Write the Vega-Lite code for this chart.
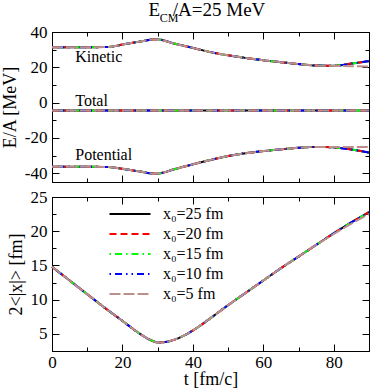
{
  "$schema": "https://vega.github.io/schema/vega-lite/v6.json",
  "background": "white",
  "padding": {"left": 0, "right": 1, "top": 0, "bottom": 0},
  "spacing": 4,
  "config": {
    "font": "Liberation Serif",
    "view": {"stroke": "black", "strokeWidth": 1},
    "axis": {
      "domainColor": "black", "domainWidth": 1, "tickColor": "black", "tickWidth": 1,
      "labelColor": "black", "titleColor": "black",
      "labelFont": "Liberation Serif", "titleFont": "Liberation Serif",
      "labelFontSize": 17, "titleFontSize": 18, "titleFontWeight": "normal",
      "grid": false, "labelPadding": 12, "labelFlush": false, "labelOverlap": false, "titlePadding": 5
    },
    "axisBottom": {"titlePadding": -3, "labelPadding": 10},
    "legend": {"labelFont": "Liberation Serif", "labelFontSize": 16, "labelColor": "black"}
  },
  "datasets": {
    "energy": [
      {"t": 0, "x0": "x₀=25 fm", "kind": "Kinetic", "e": 31.4},
      {"t": 10, "x0": "x₀=25 fm", "kind": "Kinetic", "e": 31.4},
      {"t": 16, "x0": "x₀=25 fm", "kind": "Kinetic", "e": 31.5},
      {"t": 20, "x0": "x₀=25 fm", "kind": "Kinetic", "e": 32.9},
      {"t": 25, "x0": "x₀=25 fm", "kind": "Kinetic", "e": 34.6},
      {"t": 29.5, "x0": "x₀=25 fm", "kind": "Kinetic", "e": 35.9},
      {"t": 35, "x0": "x₀=25 fm", "kind": "Kinetic", "e": 33.3},
      {"t": 40, "x0": "x₀=25 fm", "kind": "Kinetic", "e": 31.0},
      {"t": 45, "x0": "x₀=25 fm", "kind": "Kinetic", "e": 28.6},
      {"t": 50, "x0": "x₀=25 fm", "kind": "Kinetic", "e": 26.8},
      {"t": 55, "x0": "x₀=25 fm", "kind": "Kinetic", "e": 25.3},
      {"t": 60, "x0": "x₀=25 fm", "kind": "Kinetic", "e": 24.0},
      {"t": 65, "x0": "x₀=25 fm", "kind": "Kinetic", "e": 22.9},
      {"t": 70, "x0": "x₀=25 fm", "kind": "Kinetic", "e": 21.8},
      {"t": 75, "x0": "x₀=25 fm", "kind": "Kinetic", "e": 21.0},
      {"t": 80, "x0": "x₀=25 fm", "kind": "Kinetic", "e": 20.9},
      {"t": 85, "x0": "x₀=25 fm", "kind": "Kinetic", "e": 22.1},
      {"t": 90, "x0": "x₀=25 fm", "kind": "Kinetic", "e": 23.5},
      {"t": 0, "x0": "x₀=25 fm", "kind": "Potential", "e": -36.4},
      {"t": 10, "x0": "x₀=25 fm", "kind": "Potential", "e": -36.4},
      {"t": 16, "x0": "x₀=25 fm", "kind": "Potential", "e": -36.5},
      {"t": 20, "x0": "x₀=25 fm", "kind": "Potential", "e": -37.5},
      {"t": 25, "x0": "x₀=25 fm", "kind": "Potential", "e": -39.1},
      {"t": 29.5, "x0": "x₀=25 fm", "kind": "Potential", "e": -40.3},
      {"t": 35, "x0": "x₀=25 fm", "kind": "Potential", "e": -37.6},
      {"t": 40, "x0": "x₀=25 fm", "kind": "Potential", "e": -35.0},
      {"t": 45, "x0": "x₀=25 fm", "kind": "Potential", "e": -32.5},
      {"t": 50, "x0": "x₀=25 fm", "kind": "Potential", "e": -30.3},
      {"t": 55, "x0": "x₀=25 fm", "kind": "Potential", "e": -28.7},
      {"t": 60, "x0": "x₀=25 fm", "kind": "Potential", "e": -27.5},
      {"t": 65, "x0": "x₀=25 fm", "kind": "Potential", "e": -26.5},
      {"t": 70, "x0": "x₀=25 fm", "kind": "Potential", "e": -25.6},
      {"t": 75, "x0": "x₀=25 fm", "kind": "Potential", "e": -25.1},
      {"t": 80, "x0": "x₀=25 fm", "kind": "Potential", "e": -25.4},
      {"t": 85, "x0": "x₀=25 fm", "kind": "Potential", "e": -26.6},
      {"t": 90, "x0": "x₀=25 fm", "kind": "Potential", "e": -28.3},
      {"t": 0, "x0": "x₀=25 fm", "kind": "Total", "e": -4.5},
      {"t": 90, "x0": "x₀=25 fm", "kind": "Total", "e": -4.5},

      {"t": 0, "x0": "x₀=20 fm", "kind": "Kinetic", "e": 31.4},
      {"t": 10, "x0": "x₀=20 fm", "kind": "Kinetic", "e": 31.4},
      {"t": 16, "x0": "x₀=20 fm", "kind": "Kinetic", "e": 31.5},
      {"t": 20, "x0": "x₀=20 fm", "kind": "Kinetic", "e": 32.9},
      {"t": 25, "x0": "x₀=20 fm", "kind": "Kinetic", "e": 34.6},
      {"t": 29.5, "x0": "x₀=20 fm", "kind": "Kinetic", "e": 35.9},
      {"t": 35, "x0": "x₀=20 fm", "kind": "Kinetic", "e": 33.3},
      {"t": 40, "x0": "x₀=20 fm", "kind": "Kinetic", "e": 31.0},
      {"t": 45, "x0": "x₀=20 fm", "kind": "Kinetic", "e": 28.6},
      {"t": 50, "x0": "x₀=20 fm", "kind": "Kinetic", "e": 26.8},
      {"t": 55, "x0": "x₀=20 fm", "kind": "Kinetic", "e": 25.3},
      {"t": 60, "x0": "x₀=20 fm", "kind": "Kinetic", "e": 24.0},
      {"t": 65, "x0": "x₀=20 fm", "kind": "Kinetic", "e": 22.9},
      {"t": 70, "x0": "x₀=20 fm", "kind": "Kinetic", "e": 21.8},
      {"t": 75, "x0": "x₀=20 fm", "kind": "Kinetic", "e": 21.0},
      {"t": 80, "x0": "x₀=20 fm", "kind": "Kinetic", "e": 20.9},
      {"t": 85, "x0": "x₀=20 fm", "kind": "Kinetic", "e": 22.1},
      {"t": 90, "x0": "x₀=20 fm", "kind": "Kinetic", "e": 23.5},
      {"t": 0, "x0": "x₀=20 fm", "kind": "Potential", "e": -36.4},
      {"t": 10, "x0": "x₀=20 fm", "kind": "Potential", "e": -36.4},
      {"t": 16, "x0": "x₀=20 fm", "kind": "Potential", "e": -36.5},
      {"t": 20, "x0": "x₀=20 fm", "kind": "Potential", "e": -37.5},
      {"t": 25, "x0": "x₀=20 fm", "kind": "Potential", "e": -39.1},
      {"t": 29.5, "x0": "x₀=20 fm", "kind": "Potential", "e": -40.3},
      {"t": 35, "x0": "x₀=20 fm", "kind": "Potential", "e": -37.6},
      {"t": 40, "x0": "x₀=20 fm", "kind": "Potential", "e": -35.0},
      {"t": 45, "x0": "x₀=20 fm", "kind": "Potential", "e": -32.5},
      {"t": 50, "x0": "x₀=20 fm", "kind": "Potential", "e": -30.3},
      {"t": 55, "x0": "x₀=20 fm", "kind": "Potential", "e": -28.7},
      {"t": 60, "x0": "x₀=20 fm", "kind": "Potential", "e": -27.5},
      {"t": 65, "x0": "x₀=20 fm", "kind": "Potential", "e": -26.5},
      {"t": 70, "x0": "x₀=20 fm", "kind": "Potential", "e": -25.6},
      {"t": 75, "x0": "x₀=20 fm", "kind": "Potential", "e": -25.1},
      {"t": 80, "x0": "x₀=20 fm", "kind": "Potential", "e": -25.4},
      {"t": 85, "x0": "x₀=20 fm", "kind": "Potential", "e": -26.6},
      {"t": 90, "x0": "x₀=20 fm", "kind": "Potential", "e": -28.3},
      {"t": 0, "x0": "x₀=20 fm", "kind": "Total", "e": -4.5},
      {"t": 90, "x0": "x₀=20 fm", "kind": "Total", "e": -4.5},

      {"t": 0, "x0": "x₀=15 fm", "kind": "Kinetic", "e": 31.4},
      {"t": 10, "x0": "x₀=15 fm", "kind": "Kinetic", "e": 31.4},
      {"t": 16, "x0": "x₀=15 fm", "kind": "Kinetic", "e": 31.5},
      {"t": 20, "x0": "x₀=15 fm", "kind": "Kinetic", "e": 32.9},
      {"t": 25, "x0": "x₀=15 fm", "kind": "Kinetic", "e": 34.6},
      {"t": 29.5, "x0": "x₀=15 fm", "kind": "Kinetic", "e": 35.9},
      {"t": 35, "x0": "x₀=15 fm", "kind": "Kinetic", "e": 33.3},
      {"t": 40, "x0": "x₀=15 fm", "kind": "Kinetic", "e": 31.0},
      {"t": 45, "x0": "x₀=15 fm", "kind": "Kinetic", "e": 28.6},
      {"t": 50, "x0": "x₀=15 fm", "kind": "Kinetic", "e": 26.8},
      {"t": 55, "x0": "x₀=15 fm", "kind": "Kinetic", "e": 25.3},
      {"t": 60, "x0": "x₀=15 fm", "kind": "Kinetic", "e": 24.0},
      {"t": 65, "x0": "x₀=15 fm", "kind": "Kinetic", "e": 22.9},
      {"t": 70, "x0": "x₀=15 fm", "kind": "Kinetic", "e": 21.8},
      {"t": 75, "x0": "x₀=15 fm", "kind": "Kinetic", "e": 21.0},
      {"t": 80, "x0": "x₀=15 fm", "kind": "Kinetic", "e": 20.9},
      {"t": 85, "x0": "x₀=15 fm", "kind": "Kinetic", "e": 22.1},
      {"t": 90, "x0": "x₀=15 fm", "kind": "Kinetic", "e": 23.5},
      {"t": 0, "x0": "x₀=15 fm", "kind": "Potential", "e": -36.4},
      {"t": 10, "x0": "x₀=15 fm", "kind": "Potential", "e": -36.4},
      {"t": 16, "x0": "x₀=15 fm", "kind": "Potential", "e": -36.5},
      {"t": 20, "x0": "x₀=15 fm", "kind": "Potential", "e": -37.5},
      {"t": 25, "x0": "x₀=15 fm", "kind": "Potential", "e": -39.1},
      {"t": 29.5, "x0": "x₀=15 fm", "kind": "Potential", "e": -40.3},
      {"t": 35, "x0": "x₀=15 fm", "kind": "Potential", "e": -37.6},
      {"t": 40, "x0": "x₀=15 fm", "kind": "Potential", "e": -35.0},
      {"t": 45, "x0": "x₀=15 fm", "kind": "Potential", "e": -32.5},
      {"t": 50, "x0": "x₀=15 fm", "kind": "Potential", "e": -30.3},
      {"t": 55, "x0": "x₀=15 fm", "kind": "Potential", "e": -28.7},
      {"t": 60, "x0": "x₀=15 fm", "kind": "Potential", "e": -27.5},
      {"t": 65, "x0": "x₀=15 fm", "kind": "Potential", "e": -26.5},
      {"t": 70, "x0": "x₀=15 fm", "kind": "Potential", "e": -25.6},
      {"t": 75, "x0": "x₀=15 fm", "kind": "Potential", "e": -25.1},
      {"t": 80, "x0": "x₀=15 fm", "kind": "Potential", "e": -25.4},
      {"t": 85, "x0": "x₀=15 fm", "kind": "Potential", "e": -26.6},
      {"t": 90, "x0": "x₀=15 fm", "kind": "Potential", "e": -28.3},
      {"t": 0, "x0": "x₀=15 fm", "kind": "Total", "e": -4.5},
      {"t": 90, "x0": "x₀=15 fm", "kind": "Total", "e": -4.5},

      {"t": 0, "x0": "x₀=10 fm", "kind": "Kinetic", "e": 31.4},
      {"t": 10, "x0": "x₀=10 fm", "kind": "Kinetic", "e": 31.4},
      {"t": 16, "x0": "x₀=10 fm", "kind": "Kinetic", "e": 31.5},
      {"t": 20, "x0": "x₀=10 fm", "kind": "Kinetic", "e": 32.9},
      {"t": 25, "x0": "x₀=10 fm", "kind": "Kinetic", "e": 34.6},
      {"t": 29.5, "x0": "x₀=10 fm", "kind": "Kinetic", "e": 35.9},
      {"t": 35, "x0": "x₀=10 fm", "kind": "Kinetic", "e": 33.3},
      {"t": 40, "x0": "x₀=10 fm", "kind": "Kinetic", "e": 31.0},
      {"t": 45, "x0": "x₀=10 fm", "kind": "Kinetic", "e": 28.6},
      {"t": 50, "x0": "x₀=10 fm", "kind": "Kinetic", "e": 26.8},
      {"t": 55, "x0": "x₀=10 fm", "kind": "Kinetic", "e": 25.3},
      {"t": 60, "x0": "x₀=10 fm", "kind": "Kinetic", "e": 24.0},
      {"t": 65, "x0": "x₀=10 fm", "kind": "Kinetic", "e": 22.9},
      {"t": 70, "x0": "x₀=10 fm", "kind": "Kinetic", "e": 21.8},
      {"t": 75, "x0": "x₀=10 fm", "kind": "Kinetic", "e": 21.0},
      {"t": 80, "x0": "x₀=10 fm", "kind": "Kinetic", "e": 20.9},
      {"t": 85, "x0": "x₀=10 fm", "kind": "Kinetic", "e": 22.1},
      {"t": 90, "x0": "x₀=10 fm", "kind": "Kinetic", "e": 23.5},
      {"t": 0, "x0": "x₀=10 fm", "kind": "Potential", "e": -36.4},
      {"t": 10, "x0": "x₀=10 fm", "kind": "Potential", "e": -36.4},
      {"t": 16, "x0": "x₀=10 fm", "kind": "Potential", "e": -36.5},
      {"t": 20, "x0": "x₀=10 fm", "kind": "Potential", "e": -37.5},
      {"t": 25, "x0": "x₀=10 fm", "kind": "Potential", "e": -39.1},
      {"t": 29.5, "x0": "x₀=10 fm", "kind": "Potential", "e": -40.3},
      {"t": 35, "x0": "x₀=10 fm", "kind": "Potential", "e": -37.6},
      {"t": 40, "x0": "x₀=10 fm", "kind": "Potential", "e": -35.0},
      {"t": 45, "x0": "x₀=10 fm", "kind": "Potential", "e": -32.5},
      {"t": 50, "x0": "x₀=10 fm", "kind": "Potential", "e": -30.3},
      {"t": 55, "x0": "x₀=10 fm", "kind": "Potential", "e": -28.7},
      {"t": 60, "x0": "x₀=10 fm", "kind": "Potential", "e": -27.5},
      {"t": 65, "x0": "x₀=10 fm", "kind": "Potential", "e": -26.5},
      {"t": 70, "x0": "x₀=10 fm", "kind": "Potential", "e": -25.6},
      {"t": 75, "x0": "x₀=10 fm", "kind": "Potential", "e": -25.1},
      {"t": 80, "x0": "x₀=10 fm", "kind": "Potential", "e": -25.4},
      {"t": 85, "x0": "x₀=10 fm", "kind": "Potential", "e": -26.6},
      {"t": 90, "x0": "x₀=10 fm", "kind": "Potential", "e": -28.3},
      {"t": 0, "x0": "x₀=10 fm", "kind": "Total", "e": -4.5},
      {"t": 90, "x0": "x₀=10 fm", "kind": "Total", "e": -4.5},

      {"t": 0, "x0": "x₀=5 fm", "kind": "Kinetic", "e": 31.4},
      {"t": 10, "x0": "x₀=5 fm", "kind": "Kinetic", "e": 31.4},
      {"t": 16, "x0": "x₀=5 fm", "kind": "Kinetic", "e": 31.5},
      {"t": 20, "x0": "x₀=5 fm", "kind": "Kinetic", "e": 32.9},
      {"t": 25, "x0": "x₀=5 fm", "kind": "Kinetic", "e": 34.6},
      {"t": 29.5, "x0": "x₀=5 fm", "kind": "Kinetic", "e": 35.9},
      {"t": 35, "x0": "x₀=5 fm", "kind": "Kinetic", "e": 33.3},
      {"t": 40, "x0": "x₀=5 fm", "kind": "Kinetic", "e": 31.0},
      {"t": 45, "x0": "x₀=5 fm", "kind": "Kinetic", "e": 28.6},
      {"t": 50, "x0": "x₀=5 fm", "kind": "Kinetic", "e": 26.8},
      {"t": 55, "x0": "x₀=5 fm", "kind": "Kinetic", "e": 25.3},
      {"t": 60, "x0": "x₀=5 fm", "kind": "Kinetic", "e": 24.0},
      {"t": 65, "x0": "x₀=5 fm", "kind": "Kinetic", "e": 22.9},
      {"t": 70, "x0": "x₀=5 fm", "kind": "Kinetic", "e": 21.8},
      {"t": 75, "x0": "x₀=5 fm", "kind": "Kinetic", "e": 21.0},
      {"t": 80, "x0": "x₀=5 fm", "kind": "Kinetic", "e": 20.8},
      {"t": 85, "x0": "x₀=5 fm", "kind": "Kinetic", "e": 20.6},
      {"t": 90, "x0": "x₀=5 fm", "kind": "Kinetic", "e": 20.5},
      {"t": 0, "x0": "x₀=5 fm", "kind": "Potential", "e": -36.4},
      {"t": 10, "x0": "x₀=5 fm", "kind": "Potential", "e": -36.4},
      {"t": 16, "x0": "x₀=5 fm", "kind": "Potential", "e": -36.5},
      {"t": 20, "x0": "x₀=5 fm", "kind": "Potential", "e": -37.5},
      {"t": 25, "x0": "x₀=5 fm", "kind": "Potential", "e": -39.1},
      {"t": 29.5, "x0": "x₀=5 fm", "kind": "Potential", "e": -40.3},
      {"t": 35, "x0": "x₀=5 fm", "kind": "Potential", "e": -37.6},
      {"t": 40, "x0": "x₀=5 fm", "kind": "Potential", "e": -35.0},
      {"t": 45, "x0": "x₀=5 fm", "kind": "Potential", "e": -32.5},
      {"t": 50, "x0": "x₀=5 fm", "kind": "Potential", "e": -30.3},
      {"t": 55, "x0": "x₀=5 fm", "kind": "Potential", "e": -28.7},
      {"t": 60, "x0": "x₀=5 fm", "kind": "Potential", "e": -27.5},
      {"t": 65, "x0": "x₀=5 fm", "kind": "Potential", "e": -26.5},
      {"t": 70, "x0": "x₀=5 fm", "kind": "Potential", "e": -25.6},
      {"t": 75, "x0": "x₀=5 fm", "kind": "Potential", "e": -25.1},
      {"t": 80, "x0": "x₀=5 fm", "kind": "Potential", "e": -25.2},
      {"t": 85, "x0": "x₀=5 fm", "kind": "Potential", "e": -25.1},
      {"t": 90, "x0": "x₀=5 fm", "kind": "Potential", "e": -25.2},
      {"t": 0, "x0": "x₀=5 fm", "kind": "Total", "e": -4.5},
      {"t": 90, "x0": "x₀=5 fm", "kind": "Total", "e": -4.5}
    ],
    "radius": [
      {"t": 0, "x0": "x₀=25 fm", "r": 14.8}, {"t": 5, "x0": "x₀=25 fm", "r": 12.8}, {"t": 10, "x0": "x₀=25 fm", "r": 10.8},
      {"t": 15, "x0": "x₀=25 fm", "r": 8.8}, {"t": 20, "x0": "x₀=25 fm", "r": 6.9}, {"t": 25, "x0": "x₀=25 fm", "r": 5.0},
      {"t": 28, "x0": "x₀=25 fm", "r": 4.1}, {"t": 30, "x0": "x₀=25 fm", "r": 3.75}, {"t": 32, "x0": "x₀=25 fm", "r": 3.8},
      {"t": 35, "x0": "x₀=25 fm", "r": 4.2}, {"t": 40, "x0": "x₀=25 fm", "r": 5.5}, {"t": 45, "x0": "x₀=25 fm", "r": 7.3},
      {"t": 50, "x0": "x₀=25 fm", "r": 9.2}, {"t": 55, "x0": "x₀=25 fm", "r": 11.0}, {"t": 60, "x0": "x₀=25 fm", "r": 12.8},
      {"t": 65, "x0": "x₀=25 fm", "r": 14.6}, {"t": 70, "x0": "x₀=25 fm", "r": 16.3}, {"t": 75, "x0": "x₀=25 fm", "r": 18.0},
      {"t": 80, "x0": "x₀=25 fm", "r": 19.7}, {"t": 85, "x0": "x₀=25 fm", "r": 21.3}, {"t": 90, "x0": "x₀=25 fm", "r": 22.8},

      {"t": 0, "x0": "x₀=20 fm", "r": 14.8}, {"t": 5, "x0": "x₀=20 fm", "r": 12.8}, {"t": 10, "x0": "x₀=20 fm", "r": 10.8},
      {"t": 15, "x0": "x₀=20 fm", "r": 8.8}, {"t": 20, "x0": "x₀=20 fm", "r": 6.9}, {"t": 25, "x0": "x₀=20 fm", "r": 5.0},
      {"t": 28, "x0": "x₀=20 fm", "r": 4.1}, {"t": 30, "x0": "x₀=20 fm", "r": 3.75}, {"t": 32, "x0": "x₀=20 fm", "r": 3.8},
      {"t": 35, "x0": "x₀=20 fm", "r": 4.2}, {"t": 40, "x0": "x₀=20 fm", "r": 5.5}, {"t": 45, "x0": "x₀=20 fm", "r": 7.3},
      {"t": 50, "x0": "x₀=20 fm", "r": 9.2}, {"t": 55, "x0": "x₀=20 fm", "r": 11.0}, {"t": 60, "x0": "x₀=20 fm", "r": 12.8},
      {"t": 65, "x0": "x₀=20 fm", "r": 14.6}, {"t": 70, "x0": "x₀=20 fm", "r": 16.3}, {"t": 75, "x0": "x₀=20 fm", "r": 18.0},
      {"t": 80, "x0": "x₀=20 fm", "r": 19.7}, {"t": 85, "x0": "x₀=20 fm", "r": 21.3}, {"t": 90, "x0": "x₀=20 fm", "r": 22.8},

      {"t": 0, "x0": "x₀=15 fm", "r": 14.8}, {"t": 5, "x0": "x₀=15 fm", "r": 12.8}, {"t": 10, "x0": "x₀=15 fm", "r": 10.8},
      {"t": 15, "x0": "x₀=15 fm", "r": 8.8}, {"t": 20, "x0": "x₀=15 fm", "r": 6.9}, {"t": 25, "x0": "x₀=15 fm", "r": 5.0},
      {"t": 28, "x0": "x₀=15 fm", "r": 4.1}, {"t": 30, "x0": "x₀=15 fm", "r": 3.75}, {"t": 32, "x0": "x₀=15 fm", "r": 3.8},
      {"t": 35, "x0": "x₀=15 fm", "r": 4.2}, {"t": 40, "x0": "x₀=15 fm", "r": 5.5}, {"t": 45, "x0": "x₀=15 fm", "r": 7.3},
      {"t": 50, "x0": "x₀=15 fm", "r": 9.2}, {"t": 55, "x0": "x₀=15 fm", "r": 11.0}, {"t": 60, "x0": "x₀=15 fm", "r": 12.8},
      {"t": 65, "x0": "x₀=15 fm", "r": 14.6}, {"t": 70, "x0": "x₀=15 fm", "r": 16.3}, {"t": 75, "x0": "x₀=15 fm", "r": 18.0},
      {"t": 80, "x0": "x₀=15 fm", "r": 19.7}, {"t": 85, "x0": "x₀=15 fm", "r": 21.3}, {"t": 90, "x0": "x₀=15 fm", "r": 22.8},

      {"t": 0, "x0": "x₀=10 fm", "r": 14.8}, {"t": 5, "x0": "x₀=10 fm", "r": 12.8}, {"t": 10, "x0": "x₀=10 fm", "r": 10.8},
      {"t": 15, "x0": "x₀=10 fm", "r": 8.8}, {"t": 20, "x0": "x₀=10 fm", "r": 6.9}, {"t": 25, "x0": "x₀=10 fm", "r": 5.0},
      {"t": 28, "x0": "x₀=10 fm", "r": 4.1}, {"t": 30, "x0": "x₀=10 fm", "r": 3.75}, {"t": 32, "x0": "x₀=10 fm", "r": 3.8},
      {"t": 35, "x0": "x₀=10 fm", "r": 4.2}, {"t": 40, "x0": "x₀=10 fm", "r": 5.5}, {"t": 45, "x0": "x₀=10 fm", "r": 7.3},
      {"t": 50, "x0": "x₀=10 fm", "r": 9.2}, {"t": 55, "x0": "x₀=10 fm", "r": 11.0}, {"t": 60, "x0": "x₀=10 fm", "r": 12.8},
      {"t": 65, "x0": "x₀=10 fm", "r": 14.6}, {"t": 70, "x0": "x₀=10 fm", "r": 16.3}, {"t": 75, "x0": "x₀=10 fm", "r": 18.0},
      {"t": 80, "x0": "x₀=10 fm", "r": 19.7}, {"t": 85, "x0": "x₀=10 fm", "r": 21.3}, {"t": 90, "x0": "x₀=10 fm", "r": 22.8},

      {"t": 0, "x0": "x₀=5 fm", "r": 14.8}, {"t": 5, "x0": "x₀=5 fm", "r": 12.8}, {"t": 10, "x0": "x₀=5 fm", "r": 10.8},
      {"t": 15, "x0": "x₀=5 fm", "r": 8.8}, {"t": 20, "x0": "x₀=5 fm", "r": 6.9}, {"t": 25, "x0": "x₀=5 fm", "r": 5.0},
      {"t": 28, "x0": "x₀=5 fm", "r": 4.1}, {"t": 30, "x0": "x₀=5 fm", "r": 3.75}, {"t": 32, "x0": "x₀=5 fm", "r": 3.8},
      {"t": 35, "x0": "x₀=5 fm", "r": 4.2}, {"t": 40, "x0": "x₀=5 fm", "r": 5.5}, {"t": 45, "x0": "x₀=5 fm", "r": 7.3},
      {"t": 50, "x0": "x₀=5 fm", "r": 9.2}, {"t": 55, "x0": "x₀=5 fm", "r": 11.0}, {"t": 60, "x0": "x₀=5 fm", "r": 12.8},
      {"t": 65, "x0": "x₀=5 fm", "r": 14.6}, {"t": 70, "x0": "x₀=5 fm", "r": 16.3}, {"t": 75, "x0": "x₀=5 fm", "r": 18.0},
      {"t": 80, "x0": "x₀=5 fm", "r": 19.6}, {"t": 85, "x0": "x₀=5 fm", "r": 21.1}, {"t": 90, "x0": "x₀=5 fm", "r": 22.5}
    ]
  },
  "resolve": {
    "scale": {"color": "independent", "strokeDash": "independent"},
    "legend": {"color": "independent", "strokeDash": "independent"}
  },
  "vconcat": [
    {
      "width": 317,
      "height": 150,
      "resolve": {"axis": {"x": "independent", "y": "independent"}},
      "layer": [
        {
          "data": {"name": "energy"},
          "mark": {"type": "line", "strokeWidth": 2, "interpolate": "monotone"},
          "encoding": {
            "x": {"field": "t", "type": "quantitative", "scale": {"domain": [0, 90], "nice": false, "zero": false},
              "axis": {"orient": "bottom", "values": [0, 10, 20, 30, 40, 50, 60, 70, 80, 90], "labels": false, "title": null,
                "tickSize": {"condition": {"test": "datum.value % 20 === 0", "value": -7}, "value": -4}}},
            "y": {"field": "e", "type": "quantitative", "scale": {"domain": [-45, 40], "nice": false, "zero": false},
              "axis": {"orient": "left", "values": [-40, -30, -20, -10, 0, 10, 20, 30, 40], "title": "E/A [MeV]",
                "labelExpr": "datum.value % 20 === 0 ? '' + datum.value : ''",
                "tickSize": {"condition": {"test": "datum.value % 20 === 0", "value": -7}, "value": -4}}},
            "color": {"field": "x0", "type": "nominal", "legend": null,
              "scale": {"domain": ["x₀=25 fm", "x₀=20 fm", "x₀=15 fm", "x₀=10 fm", "x₀=5 fm"], "range": ["#000000", "#ff0000", "#00ff00", "#0000ff", "#bc8f8f"]}},
            "strokeDash": {"field": "x0", "type": "nominal", "legend": null,
              "scale": {"domain": ["x₀=25 fm", "x₀=20 fm", "x₀=15 fm", "x₀=10 fm", "x₀=5 fm"], "range": [[1, 0], [7, 4], [1.5, 4, 7, 4], [1.5, 4, 7, 4, 1.5, 4], [11, 3]]}},
            "detail": {"field": "kind", "type": "nominal"}
          }
        },
        {
          "data": {"name": "energy"},
          "mark": {"type": "line", "strokeOpacity": 0},
          "encoding": {
            "x": {"field": "t", "type": "quantitative", "scale": {"domain": [0, 90], "nice": false, "zero": false},
              "axis": {"orient": "top", "values": [0, 10, 20, 30, 40, 50, 60, 70, 80, 90], "labels": false, "title": null,
                "tickSize": {"condition": {"test": "datum.value % 20 === 0", "value": -7}, "value": -4}}},
            "y": {"field": "e", "type": "quantitative", "scale": {"domain": [-45, 40], "nice": false, "zero": false},
              "axis": {"orient": "right", "values": [-40, -30, -20, -10, 0, 10, 20, 30, 40], "labels": false, "title": null,
                "tickSize": {"condition": {"test": "datum.value % 20 === 0", "value": -7}, "value": -4}}},
            "detail": {"field": "kind", "type": "nominal"}
          }
        },
        {
          "data": {"values": [{}]},
          "mark": {"type": "text", "align": "left", "baseline": "alphabetic", "fontSize": 16, "font": "Liberation Serif", "color": "black"},
          "encoding": {"x": {"datum": 6.6, "axis": null}, "y": {"datum": 22.8, "axis": null}, "text": {"value": "Kinetic"}}
        },
        {
          "data": {"values": [{}]},
          "mark": {"type": "text", "align": "left", "baseline": "alphabetic", "fontSize": 16, "font": "Liberation Serif", "color": "black"},
          "encoding": {"x": {"datum": 6.6, "axis": null}, "y": {"datum": -1.8, "axis": null}, "text": {"value": "Total"}}
        },
        {
          "data": {"values": [{}]},
          "mark": {"type": "text", "align": "left", "baseline": "alphabetic", "fontSize": 16, "font": "Liberation Serif", "color": "black"},
          "encoding": {"x": {"datum": 6.6, "axis": null}, "y": {"datum": -32.6, "axis": null}, "text": {"value": "Potential"}}
        },
        {
          "data": {"values": [{}]},
          "mark": {"type": "text", "align": "left", "baseline": "alphabetic", "fontSize": 19, "font": "Liberation Serif", "color": "black"},
          "encoding": {"x": {"datum": 27.4, "axis": null}, "y": {"datum": 48.8, "axis": null}, "text": {"value": "E"}}
        },
        {
          "data": {"values": [{}]},
          "mark": {"type": "text", "align": "left", "baseline": "alphabetic", "fontSize": 12, "font": "Liberation Serif", "color": "black"},
          "encoding": {"x": {"datum": 30.6, "axis": null}, "y": {"datum": 45.7, "axis": null}, "text": {"value": "CM"}}
        },
        {
          "data": {"values": [{}]},
          "mark": {"type": "text", "align": "left", "baseline": "alphabetic", "fontSize": 19, "font": "Liberation Serif", "color": "black"},
          "encoding": {"x": {"datum": 34.3, "axis": null}, "y": {"datum": 48.8, "axis": null}, "text": {"value": "/A=25 MeV"}}
        }
      ]
    },
    {
      "width": 317,
      "height": 154,
      "resolve": {"axis": {"x": "independent", "y": "independent"}},
      "layer": [
        {
          "data": {"name": "radius"},
          "mark": {"type": "line", "strokeWidth": 2, "interpolate": "monotone"},
          "encoding": {
            "x": {"field": "t", "type": "quantitative", "scale": {"domain": [0, 90], "nice": false, "zero": false},
              "axis": {"orient": "bottom", "values": [0, 10, 20, 30, 40, 50, 60, 70, 80, 90], "title": "t [fm/c]",
                "labelExpr": "datum.value % 20 === 0 ? '' + datum.value : ''",
                "tickSize": {"condition": {"test": "datum.value % 20 === 0", "value": -7}, "value": -4}}},
            "y": {"field": "r", "type": "quantitative", "scale": {"domain": [2.5, 25], "nice": false, "zero": false},
              "axis": {"orient": "left", "values": [5, 7.5, 10, 12.5, 15, 17.5, 20, 22.5, 25], "title": "2<|x|> [fm]",
                "labelExpr": "datum.value % 5 === 0 ? '' + datum.value : ''",
                "tickSize": {"condition": {"test": "datum.value % 5 === 0", "value": -7}, "value": -4}}},
            "color": {"field": "x0", "type": "nominal",
              "scale": {"domain": ["x₀=25 fm", "x₀=20 fm", "x₀=15 fm", "x₀=10 fm", "x₀=5 fm"], "range": ["#000000", "#ff0000", "#00ff00", "#0000ff", "#bc8f8f"]},
              "legend": {"orient": "none", "legendX": 70, "legendY": 9, "title": null, "symbolType": "M-4.1,0H4.1", "symbolSize": 100, "symbolStrokeWidth": 2, "labelOffset": 25, "rowPadding": 4, "labelFontSize": 16}},
            "strokeDash": {"field": "x0", "type": "nominal",
              "scale": {"domain": ["x₀=25 fm", "x₀=20 fm", "x₀=15 fm", "x₀=10 fm", "x₀=5 fm"], "range": [[1, 0], [7, 4], [1.5, 4, 7, 4], [1.5, 4, 7, 4, 1.5, 4], [11, 3]]},
              "legend": {"orient": "none", "legendX": 70, "legendY": 9, "title": null, "symbolType": "M-4.1,0H4.1", "symbolSize": 100, "symbolStrokeWidth": 2, "labelOffset": 25, "rowPadding": 4, "labelFontSize": 16}}
          }
        },
        {
          "data": {"name": "radius"},
          "mark": {"type": "line", "strokeOpacity": 0},
          "encoding": {
            "x": {"field": "t", "type": "quantitative", "scale": {"domain": [0, 90], "nice": false, "zero": false},
              "axis": {"orient": "top", "values": [0, 10, 20, 30, 40, 50, 60, 70, 80, 90], "labels": false, "title": null,
                "tickSize": {"condition": {"test": "datum.value % 20 === 0", "value": -7}, "value": -4}}},
            "y": {"field": "r", "type": "quantitative", "scale": {"domain": [2.5, 25], "nice": false, "zero": false},
              "axis": {"orient": "right", "values": [5, 7.5, 10, 12.5, 15, 17.5, 20, 22.5, 25], "labels": false, "title": null,
                "tickSize": {"condition": {"test": "datum.value % 5 === 0", "value": -7}, "value": -4}}},
            "detail": {"field": "x0", "type": "nominal"}
          }
        }
      ]
    }
  ]
}
